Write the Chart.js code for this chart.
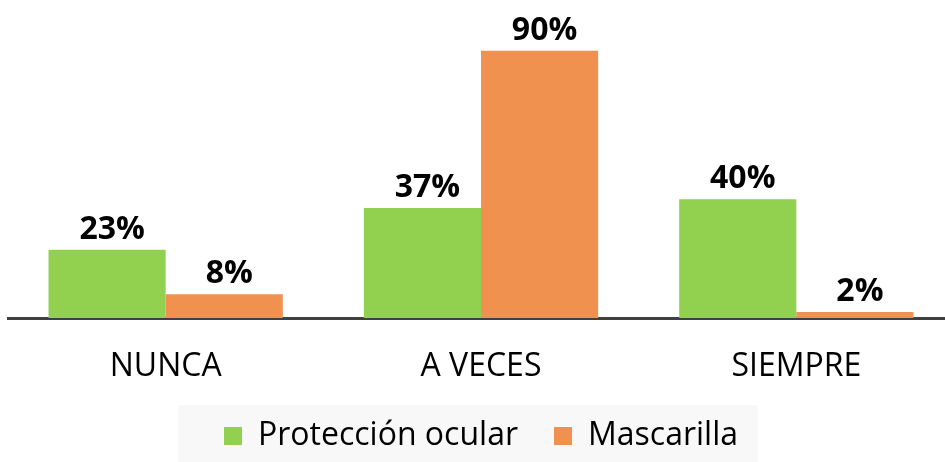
<!DOCTYPE html>
<html>
<head>
<meta charset="utf-8">
<script src="https://cdn.jsdelivr.net/npm/chart.js@4.4.1/dist/chart.umd.min.js"></script>
<style>
  html, body { margin: 0; padding: 0; background: #fff; overflow: hidden; }
  #wrap { width: 960px; height: 462px; }
</style>
</head>
<body>
<div id="wrap"><canvas id="c" width="960" height="462"></canvas></div>
<script>
const categories = ['NUNCA', 'A VECES', 'SIEMPRE'];
const proteccionOcular = [23, 37, 40];
const mascarilla = [8, 90, 2];
const seriesNames = ['Protección ocular', 'Mascarilla'];

const FONT = '"Open Sans", "Noto Sans", sans-serif';

// value labels above each bar
const barLabels = {
  id: 'barLabels',
  afterDatasetsDraw(chart) {
    const ctx = chart.ctx;
    ctx.save();
    ctx.font = 'bold 32px ' + FONT;
    ctx.fillStyle = '#000';
    ctx.textAlign = 'center';
    ctx.textBaseline = 'alphabetic';
    chart.data.datasets.forEach((ds, i) => {
      chart.getDatasetMeta(i).data.forEach((bar, j) => {
        ctx.fillText(ds.data[j] + '%', bar.x + 5, bar.y - 11);
      });
    });
    ctx.restore();
  }
};

// light grey box behind the legend
const legendBox = {
  id: 'legendBox',
  beforeDraw(chart) {
    const boxes = chart.legend.legendHitBoxes;
    if (!boxes || !boxes.length) return;
    const left = Math.min(...boxes.map(b => b.left));
    const right = Math.max(...boxes.map(b => b.left + b.width));
    const ctx = chart.ctx;
    ctx.save();
    ctx.fillStyle = '#f8f8f8';
    ctx.fillRect(left - 46, 405, right - left + 66, 57);
    ctx.restore();
  }
};

new Chart(document.getElementById('c').getContext('2d'), {
  type: 'bar',
  data: {
    labels: categories,
    datasets: [{
      label: seriesNames[0],
      data: proteccionOcular,
      backgroundColor: '#92d050'
    }, {
      label: seriesNames[1],
      data: mascarilla,
      backgroundColor: '#f09150'
    }]
  },
  options: {
    responsive: false,
    animation: false,
    layout: { padding: { top: 21, left: 8, right: 6, bottom: 0 } },
    datasets: {
      bar: { barPercentage: 1, categoryPercentage: 0.743 }
    },
    scales: {
      x: {
        grid: { display: false, drawTicks: false },
        border: { display: true, color: '#404040', width: 3 },
        ticks: { color: '#000', font: { family: FONT, size: 32 }, padding: 30 },
        afterFit(scale) { scale.height = 66; }
      },
      y: {
        display: false,
        min: 0,
        max: 100
      }
    },
    plugins: {
      legend: {
        position: 'bottom',
        labels: {
          color: '#000',
          font: { family: FONT, size: 32 },
          boxWidth: 18,
          boxHeight: 18,
          padding: 36
        }
      },
      tooltip: { enabled: false }
    }
  },
  plugins: [barLabels, legendBox]
});
</script>
</body>
</html>
